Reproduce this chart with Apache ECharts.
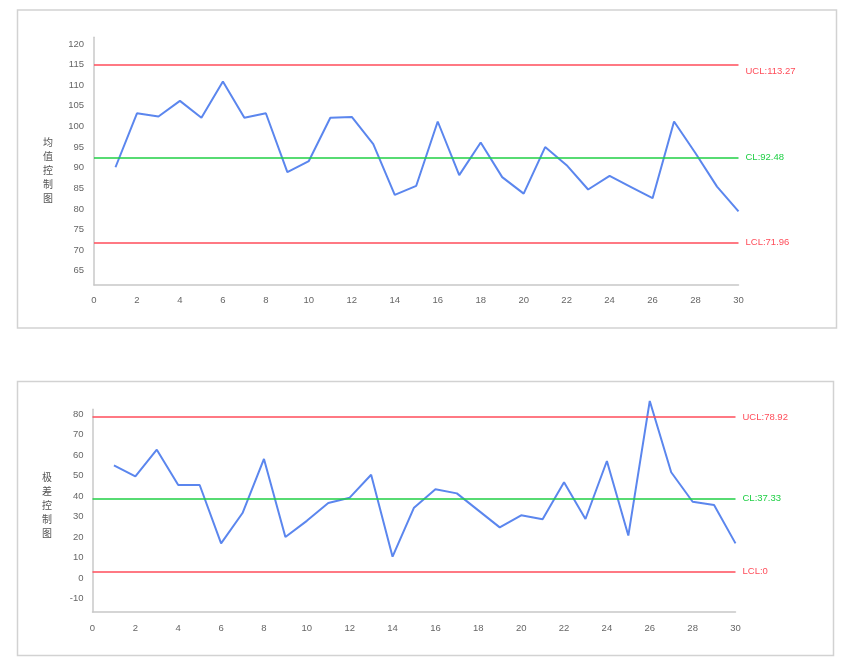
<!DOCTYPE html>
<html>
<head>
<meta charset="utf-8">
<script src="https://cdn.jsdelivr.net/npm/echarts@6/dist/echarts.min.js"></script>
<style>
html,body{margin:0;padding:0;background:#fff;}
#chart{width:847px;height:668px;}
</style>
</head>
<body>
<div id="chart"></div>
<script>
// ---- data ----
const sampleIndex = [1,2,3,4,5,6,7,8,9,10,11,12,13,14,15,16,17,18,19,20,21,22,23,24,25,26,27,28,29,30];
const meanValues = [90.1,103.2,102.4,106.2,102.1,110.9,102.1,103.2,88.9,91.6,102.1,102.3,95.7,83.4,85.6,101.2,88.2,96.1,87.7,83.7,95.0,90.6,84.7,88.0,85.3,82.6,101.2,93.5,85.4,79.4];
const rangeValues = [55.1,49.7,62.7,45.5,45.5,17.0,31.8,58.2,20.1,28.0,36.7,39.3,50.5,10.5,34.4,43.4,41.4,33.1,24.8,30.7,28.8,46.8,28.9,57.2,20.8,86.5,51.7,37.3,35.7,17.0];
const meanLimitNames = ['UCL:113.27','CL:92.48','LCL:71.96'];
const meanLimitLevels = [115, 92.48, 71.9];
const rangeLimitNames = ['UCL:78.92','CL:37.33','LCL:0'];
const rangeLimitLevels = [78.7, 39.0, 3.2];
const meanTicks = [65,70,75,80,85,90,95,100,105,110,115,120];
const rangeTicks = [-10,0,10,20,30,40,50,60,70,80];
const meanTitle = '均值控制图';
const rangeTitle = '极差控制图';

const RED = '#ff4d5a', GREEN = '#1fcf45', BLUE = '#5b86ee';
const limitColors = [RED, GREEN, RED];
const FONT = '"Liberation Sans", Arial, sans-serif';

function pairs(vals){ return vals.map((v,i)=>[sampleIndex[i], v]); }
function marks(levels, names, shiftFirst){
  return levels.map((lv,i)=>({
    yAxis: lv,
    lineStyle:{color:limitColors[i], width:1.5, type:'solid'},
    label:{show:true, position:'end', distance:7,
      formatter: (i===0 && shiftFirst) ? '\n' + names[i] : names[i],
      lineHeight:13, color:limitColors[i], fontSize:9.5, fontFamily:FONT}
  }));
}
function vText(s){ return s.split('').join('\n'); }

const axisLabelStyle = {color:'#666', fontSize:9.5, fontFamily:FONT};
const chart = echarts.init(document.getElementById('chart'), null, {renderer:'canvas'});
chart.setOption({
  animation:false,
  backgroundColor:'#fff',
  graphic:[
    {type:'rect', shape:{x:17.5, y:10, width:819, height:318}, style:{fill:'none', stroke:'#d2d2d2', lineWidth:1.5}},
    {type:'rect', shape:{x:17.5, y:381.5, width:816, height:274}, style:{fill:'none', stroke:'#d2d2d2', lineWidth:1.5}},
    {type:'text', left:43, top:135, style:{text:vText(meanTitle), fill:'#555', fontSize:10, lineHeight:14, fontFamily:'"Noto Sans CJK SC", sans-serif'}},
    {type:'text', left:42, top:470, style:{text:vText(rangeTitle), fill:'#555', fontSize:10, lineHeight:14, fontFamily:'"Noto Sans CJK SC", sans-serif'}}
  ],
  grid:[
    {left:94, top:37.3, width:644.5, height:247.7},
    {left:92.5, top:409.3, width:643, height:202.7}
  ],
  xAxis:[
    {type:'value', gridIndex:0, min:0, max:30, interval:2,
     axisLine:{onZero:false, lineStyle:{color:'#c8c8c8', width:1.5}}, axisTick:{show:false}, splitLine:{show:false},
     axisLabel:Object.assign({margin:10}, axisLabelStyle)},
    {type:'value', gridIndex:1, min:0, max:30, interval:2,
     axisLine:{onZero:false, lineStyle:{color:'#c8c8c8', width:1.5}}, axisTick:{show:false}, splitLine:{show:false},
     axisLabel:Object.assign({margin:11}, axisLabelStyle)}
  ],
  yAxis:[
    {type:'value', gridIndex:0, min:61.53, max:121.63,
     axisLine:{show:true, onZero:false, lineStyle:{color:'#c8c8c8', width:1.5}}, axisTick:{show:false}, splitLine:{show:false},
     axisLabel:Object.assign({margin:10, customValues:meanTicks}, axisLabelStyle)},
    {type:'value', gridIndex:1, min:-16.49, max:82.43,
     axisLine:{show:true, onZero:false, lineStyle:{color:'#c8c8c8', width:1.5}}, axisTick:{show:false}, splitLine:{show:false},
     axisLabel:Object.assign({margin:9, customValues:rangeTicks}, axisLabelStyle)}
  ],
  series:[
    {type:'line', xAxisIndex:0, yAxisIndex:0, data:pairs(meanValues), showSymbol:false, symbol:'none', clip:false,
     lineStyle:{color:BLUE, width:2}, itemStyle:{color:BLUE},
     markLine:{silent:true, symbol:'none', data:marks(meanLimitLevels, meanLimitNames, true)}},
    {type:'line', xAxisIndex:1, yAxisIndex:1, data:pairs(rangeValues), showSymbol:false, symbol:'none', clip:false,
     lineStyle:{color:BLUE, width:2}, itemStyle:{color:BLUE},
     markLine:{silent:true, symbol:'none', data:marks(rangeLimitLevels, rangeLimitNames, false)}}
  ]
});
</script>
</body>
</html>
